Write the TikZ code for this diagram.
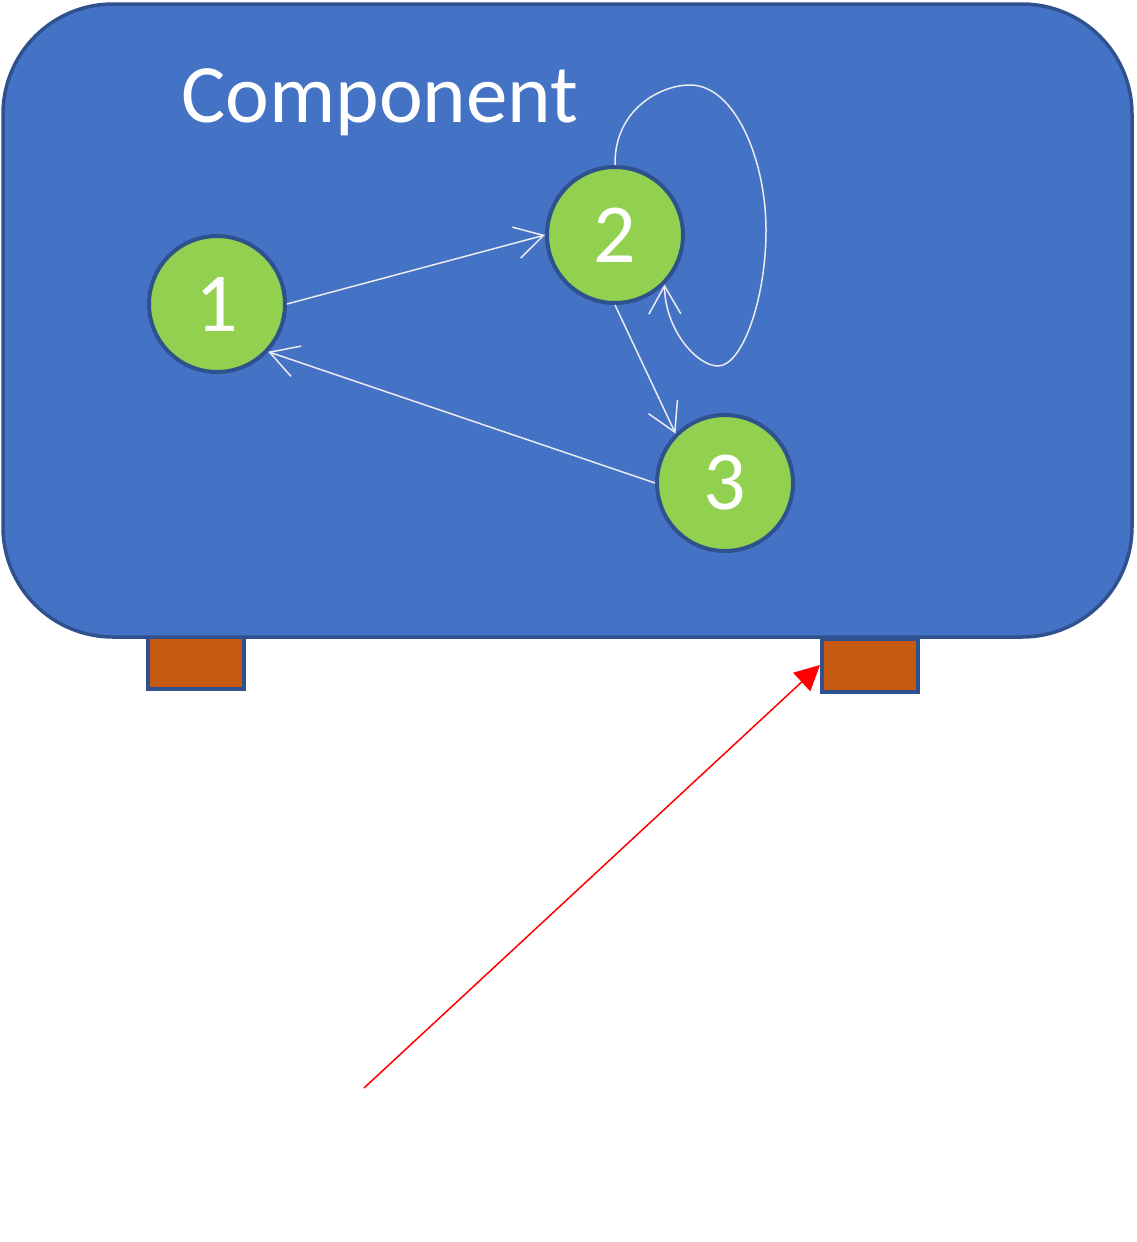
\documentclass[tikz,border=0pt]{standalone}
\usepackage{fontspec}
\setmainfont{Carlito}
\usetikzlibrary{arrows.meta}
\definecolor{compfill}{RGB}{68,114,196}
\definecolor{compborder}{RGB}{47,82,143}
\definecolor{statefill}{RGB}{146,208,80}
\definecolor{portfill}{RGB}{197,90,17}
\definecolor{edgecol}{RGB}{235,235,240}
\tikzset{
  compbox/.style  = {draw=compborder, fill=compfill, line width=3.5pt,
                      rounded corners=110pt},
  state/.style    = {circle, draw=compborder, fill=statefill, line width=4pt,
                      minimum size=136pt, inner sep=0pt, text=white,
                      font=\fontsize{84}{100}\selectfont},
  port/.style     = {rectangle, draw=compborder, fill=portfill, line width=4pt,
                      minimum width=96pt, minimum height=53pt, inner sep=0pt},
  trans/.style    = {draw=edgecol, line width=1.5pt,
                      -{Straight Barb[length=28pt, width=32pt, line width=1.5pt]}},
  pointer/.style  = {draw=red, line width=1.5pt,
                      -{Triangle[length=25pt, width=25pt]}},
}
\begin{document}
\begin{tikzpicture}[x=1pt, y=-1pt]

  % ── page frame ──
  \useasboundingbox (0,0) rectangle (1136,1242);

  % ──────────────────────────────────────────────
  %  PORTS (behind the component body)
  % ──────────────────────────────────────────────
  \node[port] (portL) at (196, 662) {};
  \node[port] (portR) at (870, 665) {};

  % ──────────────────────────────────────────────
  %  COMPONENT BODY
  % ──────────────────────────────────────────────
  \draw[compbox] (3,4) rectangle (1132,637);
  \node[text=white, font=\fontsize{83}{99}\selectfont] (title)
    at (380, 102) {Component};

  % ──────────────────────────────────────────────
  %  STATES
  % ──────────────────────────────────────────────
  \node[state] (s1) at (217, 304) {1};
  \node[state] (s2) at (615, 235) {2};
  \node[state] (s3) at (725, 483) {3};

  % transitions
  \draw[trans] (s1.east) -- (s2.west);
  \draw[trans] (s2.south) -- (s3.135);
  \draw[trans] (s3.west) -- (s1.-43);

  % self loop on state 2
  \draw[trans] (s2.north)
    .. controls (614, 110) and (660, 85) .. (690, 85)
    .. controls (735, 85) and (766, 160) .. (766, 230)
    .. controls (766, 300) and (742, 366) .. (718, 366)
    .. controls (697, 366) and (665, 330) .. (s2.-45);

  % ──────────────────────────────────────────────
  %  POINTER TO RIGHT PORT
  % ──────────────────────────────────────────────
  \coordinate (ptrstart) at (364, 1088);
  \draw[pointer] (ptrstart) -- (portR.west);

\end{tikzpicture}
\end{document}
